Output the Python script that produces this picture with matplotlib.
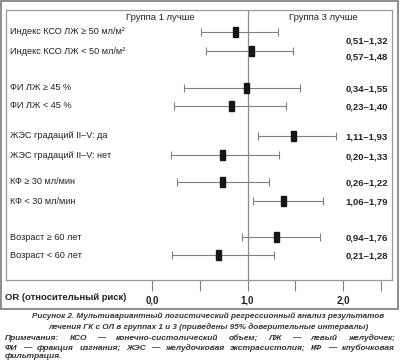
import matplotlib
matplotlib.use("Agg")
import matplotlib.pyplot as plt
from matplotlib.patches import Rectangle
from matplotlib.transforms import blended_transform_factory

plt.rcParams["font.family"] = ["Liberation Sans", "DejaVu Sans"]

# rows of the forest plot, top to bottom
labels = [
    "Индекс КСО ЛЖ ≥ 50 мл/м²",
    "Индекс КСО ЛЖ < 50 мл/м²",
    "ФИ ЛЖ ≥ 45 %",
    "ФИ ЛЖ < 45 %",
    "ЖЭС градаций II–V: да",
    "ЖЭС градаций II–V: нет",
    "КФ ≥ 30 мл/мин",
    "КФ < 30 мл/мин",
    "Возраст ≥ 60 лет",
    "Возраст < 60 лет",
]
ci_low = [0.51, 0.57, 0.34, 0.23, 1.11, 0.20, 0.26, 1.06, 0.94, 0.21]
ci_high = [1.32, 1.48, 1.55, 1.40, 1.93, 1.33, 1.22, 1.79, 1.76, 1.28]
odds = [0.87, 1.04, 0.99, 0.83, 1.48, 0.74, 0.74, 1.38, 1.30, 0.70]
ci_text = [f"{lo:.2f}–{hi:.2f}".replace(".", ",") for lo, hi in zip(ci_low, ci_high)]

tick_major = [0.0, 1.0, 2.0]
tick_labels = ["0,0", "1,0", "2,0"]
tick_minor = [0.5, 1.5, 2.4]

caption = [
    "Рисунок 2. Мультивариантный логистический регрессионный анализ результатов",
    "лечения ГК с ОЛ в группах 1 и 3 (приведены 95% доверительные интервалы)",
]
notes = [
    "Примечания: КСО — конечно-систолический объем; ЛЖ — левый желудочек;",
    "ФИ — фракция изгнания; ЖЭС — желудочковая экстрасистолия; КФ — клубочковая",
    "фильтрация.",
]

# layout (pixel rows inside the framed panel)
row_y = [32, 51, 88, 106, 136, 155, 182, 201, 237, 255]
ci_y = [41, 57, 89, 107, 137, 157, 183, 202, 238, 256]

W, H = 400, 362
fig = plt.figure(figsize=(W / 100, H / 100), dpi=100)
fig.patch.set_facecolor("white")

# inner panel: px 6..392 horizontally, 10..280 vertically
ax = fig.add_axes([6 / W, 1 - 280 / H, 386 / W, 270 / H])
px_per_unit = 95.5
x0 = 152
ax.set_xlim((6 - x0) / px_per_unit, (392 - x0) / px_per_unit)
ax.set_ylim(280, 10)
for s in ax.spines.values():
    s.set_color("#9a9a9a")
    s.set_linewidth(0.9)
ax.set_yticks([])

ax.axvline(1.0, color="#8a8a8a", lw=0.9)

gray = "#808080"
ax.errorbar(odds, row_y,
            xerr=[[o - lo for o, lo in zip(odds, ci_low)],
                  [hi - o for o, hi in zip(odds, ci_high)]],
            fmt="none", ecolor=gray, elinewidth=0.8, capsize=2.9, capthick=0.8)
bw = 5 / px_per_unit
for o, y in zip(odds, row_y):
    ax.add_patch(Rectangle((o - bw / 2, y - 5), bw, 10, color="#161616", zorder=3))

trans = blended_transform_factory(ax.transAxes, ax.transData)
for lab, y in zip(labels, row_y):
    ax.text(4 / 386, y, lab, transform=trans, ha="left", va="center",
            fontsize=6.6, color="#222222")
for t, y in zip(ci_text, ci_y):
    ax.text(382 / 386, y, t, transform=trans, ha="right", va="center",
            fontsize=6.8, fontweight="bold", color="#222222")

ax.text((160 - x0) / px_per_unit, 17, "Группа 1 лучше", ha="center", va="center",
        fontsize=6.8, color="#222222")
ax.text((323 - x0) / px_per_unit, 17, "Группа 3 лучше", ha="center", va="center",
        fontsize=6.8, color="#222222")

ax.set_xticks(tick_major)
ax.set_xticklabels(tick_labels, fontsize=7, fontweight="bold", color="#222222")
ax.set_xticks(tick_minor, minor=True)
ax.tick_params(axis="x", which="both", direction="out", length=8, width=0.8,
               color=gray, pad=3)
ax.tick_params(axis="y", left=False)

fig.text(5 / W, 1 - 298 / H, "OR (относительный риск)", ha="left", va="center",
         fontsize=6.8, fontweight="bold", color="#222222")

# outer frame
fig.patches.append(Rectangle((1 / W, 1 - 309 / H), 397 / W, 308 / H,
                             transform=fig.transFigure, fill=False,
                             edgecolor="#7a7a7a", lw=1.2))

for line, y in zip(caption, [316, 327]):
    fig.text(0.52, 1 - y / H, line, ha="center", va="center", fontsize=5.9,
             fontweight="bold", fontstyle="italic", color="#333333")

# justified notes
renderer = fig.canvas.get_renderer()
left, right = 5, 395
for i, (line, y) in enumerate(zip(notes, [338, 348, 357])):
    words = line.split(" ")
    kw = dict(fontsize=6.0, fontweight="bold", fontstyle="italic",
              color="#333333", va="center", ha="left")
    if i == len(notes) - 1:
        fig.text(left / W, 1 - y / H, line, **kw)
        continue
    arts = [fig.text(0, 1 - y / H, w, **kw) for w in words]
    widths = [a.get_window_extent(renderer).width for a in arts]
    gap = (right - left - sum(widths)) / (len(words) - 1)
    x = left
    for a, w in zip(arts, widths):
        a.set_x(x / W)
        x += w + gap

fig.savefig("out.png", dpi=100)
